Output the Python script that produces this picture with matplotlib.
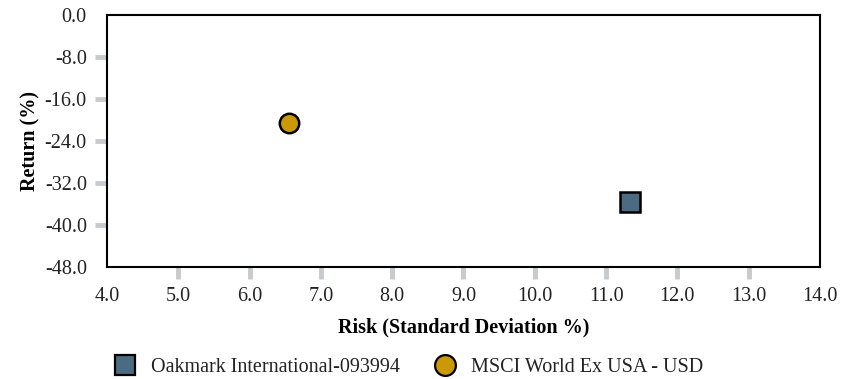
import matplotlib
matplotlib.use("Agg")
import matplotlib.pyplot as plt
from matplotlib.lines import Line2D

names = ["Oakmark International-093994", "MSCI World Ex USA - USD"]
risk = [11.33, 6.55]
ret = [-35.7, -20.5]
markers = ["s", "o"]
colors = ["#4a6b82", "#c99a06"]

xticks = [4.0, 5.0, 6.0, 7.0, 8.0, 9.0, 10.0, 11.0, 12.0, 13.0, 14.0]
yticks = [0.0, -8.0, -16.0, -24.0, -32.0, -40.0, -48.0]

plt.rcParams['font.family'] = ['Liberation Serif', 'DejaVu Serif']
plt.rcParams['text.color'] = '#222222'
plt.rcParams['xtick.labelcolor'] = '#222222'
plt.rcParams['ytick.labelcolor'] = '#222222'
FS = 14.5

fig = plt.figure(figsize=(8.59, 3.79), dpi=100)
ax = fig.add_axes([107/859, 1-267/379, (820-107)/859, (267-15)/379])

for x, y, m, c in zip(risk, ret, markers, colors):
    ax.plot([x], [y], marker=m, markersize=14, color=c,
            markeredgecolor="black", markeredgewidth=1.8, linestyle="none", zorder=3)

ax.set_xlim(4, 14)
ax.set_ylim(-48, 0)
ax.set_xticks(xticks)
ax.set_xticklabels([f"{v:.1f}" for v in xticks])
ax.set_yticks(yticks)
ax.set_yticklabels([f"{v:.1f}" for v in yticks])
ax.tick_params(axis='both', length=8.5, width=3.5, color="#c8cbce", labelsize=FS, pad=6, direction='out')
for t in ax.xaxis.get_major_ticks()[:1] + ax.xaxis.get_major_ticks()[-1:]:
    t.tick1line.set_visible(False)
for t in ax.yaxis.get_major_ticks()[:1] + ax.yaxis.get_major_ticks()[-1:]:
    t.tick1line.set_visible(False)
for s in ax.spines.values():
    s.set_linewidth(1.5)
    s.set_color("black")

ax.set_xlabel("Risk (Standard Deviation %)", fontsize=FS, fontweight="bold", labelpad=8)
ax.set_ylabel("Return (%)", fontsize=FS, fontweight="bold", labelpad=3)

handles = [Line2D([0], [0], marker=m, color=c, markeredgecolor="black", markeredgewidth=1.6,
                  linestyle="none", markersize=15) for m, c in zip(markers, colors)]
fig.legend(handles, names, loc="center", bbox_to_anchor=(409/859, 1-367/379), ncol=2,
           frameon=False, fontsize=FS, handletextpad=0.8, columnspacing=1.7, handlelength=1.0)

fig.savefig("out.png", dpi=100)
